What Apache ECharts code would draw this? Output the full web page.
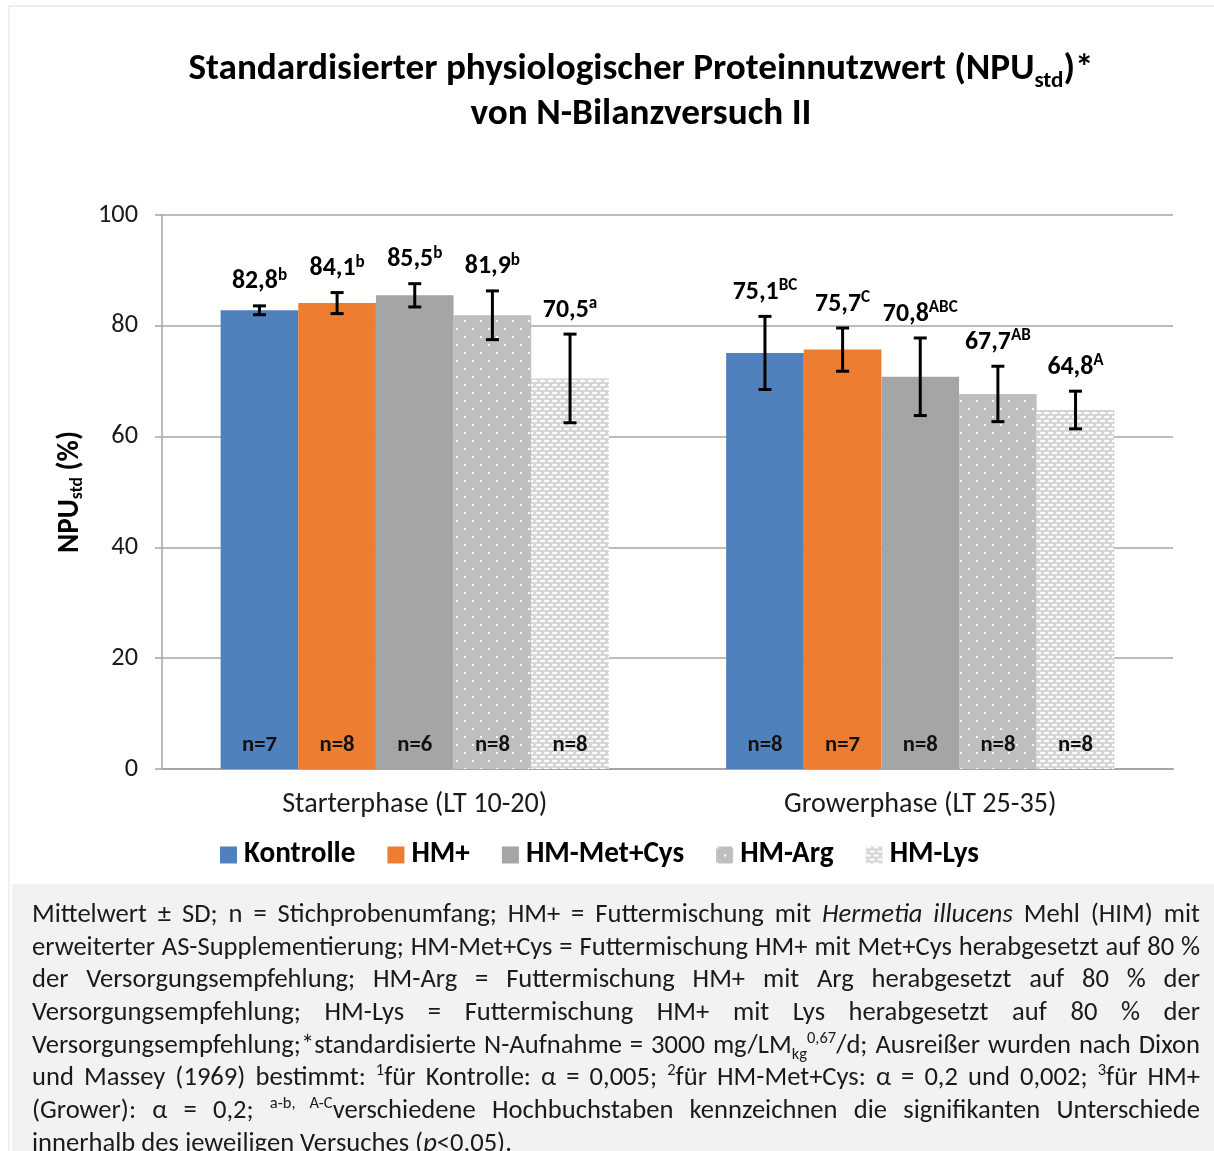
<!DOCTYPE html>
<html>
<head>
<meta charset="utf-8">
<script src="https://cdn.jsdelivr.net/npm/echarts@6/dist/echarts.min.js"></script>
<style>
  html, body { margin:0; padding:0; background:#fff; }
  #wrap { position:relative; width:1214px; height:1151px; overflow:hidden; }
  #frame { position:absolute; left:8px; top:5px; width:1210px; height:1160px; border:2px solid #efefef; box-sizing:border-box; }
  #notebox { position:absolute; left:12px; top:884px; width:1202px; height:280px; background:#f2f2f2; }
  #chart { position:absolute; left:0; top:0; width:1214px; height:1151px; }
  #note { position:absolute; left:32px; top:897px; width:1168px; color:#1a1a1a; }
  #note .ln { text-align:justify; text-align-last:justify; height:32.7px; line-height:32.7px; overflow:visible; }
  #note .ln.last { text-align-last:left; }
  #note sup, #note sub { font-size:62%; line-height:0; }
</style>
</head>
<body>
<div id="wrap">
  <div id="frame"></div>
  <div id="notebox"></div>
  <div id="chart"></div>
  <div id="note">
    <div class="ln">Mittelwert ± SD; n = Stichprobenumfang; HM+ = Futtermischung mit <i>Hermetia illucens</i> Mehl (HIM) mit</div>
    <div class="ln">erweiterter AS-Supplementierung; HM-Met+Cys = Futtermischung HM+ mit Met+Cys herabgesetzt auf 80 %</div>
    <div class="ln">der Versorgungsempfehlung; HM-Arg = Futtermischung HM+ mit Arg herabgesetzt auf 80 % der</div>
    <div class="ln">Versorgungsempfehlung; HM-Lys = Futtermischung HM+ mit Lys herabgesetzt auf 80 % der</div>
    <div class="ln">Versorgungsempfehlung;*standardisierte N-Aufnahme = 3000 mg/LM<sub>kg</sub><sup>0,67</sup>/d; Ausreißer wurden nach Dixon</div>
    <div class="ln">und Massey (1969) bestimmt: <sup>1</sup>für Kontrolle: α = 0,005; <sup>2</sup>für HM-Met+Cys: α = 0,2 und 0,002; <sup>3</sup>für HM+</div>
    <div class="ln">(Grower): α = 0,2; <sup>a-b, A-C</sup>verschiedene Hochbuchstaben kennzeichnen die signifikanten Unterschiede</div>
    <div class="ln last" id="lastln">innerhalb des jeweiligen Versuches (<i>p</i>&lt;0,05).</div>
  </div>
</div>
<script>
// ---------------- DATA ----------------
const categories = ['Starterphase (LT 10-20)', 'Growerphase (LT 25-35)'];
const seriesNames = ['Kontrolle', 'HM+', 'HM-Met+Cys', 'HM-Arg', 'HM-Lys'];
const kontrolle = [82.8, 75.1];
const hmPlus    = [84.1, 75.7];
const hmMetCys  = [85.5, 70.8];
const hmArg     = [81.9, 67.7];
const hmLys     = [70.5, 64.8];
const sdKontrolle = [0.8, 6.6];
const sdHmPlus    = [1.9, 3.9];
const sdHmMetCys  = [2.1, 7.0];
const sdHmArg     = [4.4, 5.0];
const sdHmLys     = [8.0, 3.4];
const letKontrolle = ['b', 'BC'];
const letHmPlus    = ['b', 'C'];
const letHmMetCys  = ['b', 'ABC'];
const letHmArg     = ['b', 'AB'];
const letHmLys     = ['a', 'A'];
const nKontrolle = [7, 8];
const nHmPlus    = [8, 7];
const nHmMetCys  = [6, 8];
const nHmArg     = [8, 8];
const nHmLys     = [8, 8];
const yTicks = [0, 20, 40, 60, 80, 100];

const values = [kontrolle, hmPlus, hmMetCys, hmArg, hmLys];
const sds = [sdKontrolle, sdHmPlus, sdHmMetCys, sdHmArg, sdHmLys];
const letters = [letKontrolle, letHmPlus, letHmMetCys, letHmArg, letHmLys];
const ns = [nKontrolle, nHmPlus, nHmMetCys, nHmArg, nHmLys];

// ---------------- FONT ----------------
function hasFont(name) {
  const c = document.createElement('canvas').getContext('2d');
  const t = 'mmmmmmmmmmlli10WQ';
  c.font = '72px monospace'; const a = c.measureText(t).width;
  c.font = '72px "' + name + '", monospace'; const b = c.measureText(t).width;
  return Math.abs(a - b) > 0.5;
}
let FONT = 'Open Sans';
for (const f of ['Carlito', 'Calibri', 'Lato', 'Open Sans']) { if (hasFont(f)) { FONT = f; break; } }
const FF = '"' + FONT + '", sans-serif';
const mctx = document.createElement('canvas').getContext('2d');
function mw(text, size, weight) { mctx.font = (weight || 'normal') + ' ' + size + 'px ' + FF; return mctx.measureText(text).width; }
function fitSize(text, weight, target) { return 20 * target / mw(text, 20, weight); }

// sizes fitted to the reference's text widths
const TITLE_FS = fitSize('von N-Bilanzversuch II', 'bold', 341);
const YTICK_FS = fitSize('100', 'normal', 40);
const XLAB_FS  = (fitSize('Starterphase (LT 10-20)', 'normal', 266) + fitSize('Growerphase (LT 25-35)', 'normal', 272)) / 2;
const LEG_FS   = (fitSize('Kontrolle', 'bold', 111) + fitSize('HM-Met+Cys', 'bold', 159)) / 2;
const VAL_FS   = fitSize('82,8', 'bold', 46);
const N_FS     = fitSize('n=7', 'bold', 35);
const YNAME_FS = fitSize('NPU (%)', 'bold', 100);

// footnote fit (last line is natural width ≈ 481px)
const note = document.getElementById('note');
note.style.fontFamily = FF;
note.style.fontSize = '22px';
(function fit() {
  const d = document.getElementById('lastln');
  const s = document.createElement('span');
  s.style.whiteSpace = 'nowrap';
  s.innerHTML = d.innerHTML; d.innerHTML = ''; d.appendChild(s);
  const w = s.getBoundingClientRect().width;
  d.innerHTML = s.innerHTML;
  let fs = 22 * 481 / w;
  note.style.fontSize = fs + 'px';
  let maxW = 0;
  note.querySelectorAll('.ln').forEach(function (e) {
    const t = document.createElement('span'); t.style.whiteSpace = 'nowrap';
    t.innerHTML = e.innerHTML; e.innerHTML = ''; e.appendChild(t);
    maxW = Math.max(maxW, t.getBoundingClientRect().width);
    e.innerHTML = t.innerHTML;
  });
  if (maxW > 1166) { fs = fs * 1166 / maxW; note.style.fontSize = fs + 'px'; }
})();

// ---------------- PATTERNS ----------------
function makeArg() {
  const c = document.createElement('canvas'); c.width = 16; c.height = 16;
  const g = c.getContext('2d');
  g.fillStyle = '#bfbfbf'; g.fillRect(0, 0, 16, 16);
  g.fillStyle = '#ffffff'; g.fillRect(0, 0, 2, 2); g.fillRect(8, 8, 2, 2);
  return c;
}
function makeLys() {
  const c = document.createElement('canvas'); c.width = 8; c.height = 8;
  const g = c.getContext('2d');
  g.fillStyle = '#d6d6d6'; g.fillRect(0, 0, 8, 8);
  g.fillStyle = '#ffffff';
  g.fillRect(0, 0, 5, 2); g.fillRect(4, 4, 5, 2); g.fillRect(-4, 4, 5, 2);
  return c;
}
const colors = ['#4f81bd', '#ed7d31', '#a5a5a5', { image: makeArg(), repeat: 'repeat' }, { image: makeLys(), repeat: 'repeat' }];

// ---------------- CHART ----------------
const chart = echarts.init(document.getElementById('chart'), null, { renderer: 'canvas' });
const GAP = 0.232;
const fmt = v => v.toFixed(1).replace('.', ',');

const barSeries = seriesNames.map((name, i) => ({
  name: name,
  type: 'bar',
  data: values[i],
  barGap: '0%',
  barCategoryGap: (GAP * 100) + '%',
  itemStyle: { color: colors[i] },
  label: {
    show: true, position: 'insideBottom', distance: 12,
    formatter: p => 'n=' + ns[i][p.dataIndex],
    fontFamily: FF, fontSize: N_FS, fontWeight: 'bold', color: '#111'
  },
  emphasis: { disabled: true },
  z: 2
}));

const errData = [];
for (let i = 0; i < seriesNames.length; i++) {
  for (let c = 0; c < categories.length; c++) {
    errData.push([c, i, values[i][c], sds[i][c]]);
  }
}

const errSeries = {
  type: 'custom',
  data: errData,
  encode: { x: 0, y: 2 },
  z: 10,
  silent: true,
  renderItem: function (params, api) {
    const c = api.value(0), i = api.value(1), v = api.value(2), sd = api.value(3);
    const center = api.coord([c, 0])[0];
    const band = api.size([1, 0])[0];
    const bw = band * (1 - GAP) / seriesNames.length;
    const x = center + (i - (seriesNames.length - 1) / 2) * bw;
    const yTop = api.coord([c, v + sd])[1];
    const yBot = api.coord([c, v - sd])[1];
    const cap = 6.5;
    const ls = { stroke: '#000', lineWidth: 3 };
    return {
      type: 'group',
      children: [
        { type: 'line', shape: { x1: x, y1: yTop, x2: x, y2: yBot }, style: ls },
        { type: 'line', shape: { x1: x - cap, y1: yTop, x2: x + cap, y2: yTop }, style: ls },
        { type: 'line', shape: { x1: x - cap, y1: yBot, x2: x + cap, y2: yBot }, style: ls },
        {
          type: 'text',
          x: x, y: yTop - 9,
          style: {
            text: '{v|' + fmt(v) + '}{s|' + letters[i][c] + '}',
            align: 'center', verticalAlign: 'bottom',
            rich: {
              v: { fontFamily: FF, fontSize: VAL_FS, fontWeight: 'bold', fill: '#000', lineHeight: VAL_FS * 1.15 },
              s: { fontFamily: FF, fontSize: VAL_FS * 0.66, fontWeight: 'bold', fill: '#000', verticalAlign: 'top', lineHeight: VAL_FS * 0.72 }
            }
          }
        }
      ]
    };
  }
};

const option = {
  animation: false,
  textStyle: { fontFamily: FF },
  grid: { left: 162, top: 215, width: 1011, height: 554, containLabel: false },
  legend: {
    data: seriesNames,
    left: 215, top: 853 - LEG_FS * 0.6,
    icon: 'rect', itemWidth: 17, itemHeight: 17, itemGap: 32,
    textStyle: { fontFamily: FF, fontSize: LEG_FS, fontWeight: 'bold', color: '#000', padding: [0, 0, 0, 2] },
    selectedMode: false
  },
  xAxis: {
    type: 'category',
    data: categories,
    axisLine: { show: true, lineStyle: { color: '#a6a6a6', width: 2 } },
    axisTick: { show: false },
    axisLabel: { fontFamily: FF, fontSize: XLAB_FS, color: '#1a1a1a', margin: 36 - XLAB_FS / 2 },
    splitLine: { show: false }
  },
  yAxis: {
    type: 'value',
    min: yTicks[0], max: yTicks[yTicks.length - 1], interval: yTicks[1] - yTicks[0],
    name: '{a|NPU}{s|std}{a| (%)}',
    nameLocation: 'middle', nameRotate: 90, nameGap: 87 - YNAME_FS * 0.6,
    nameTextStyle: {
      rich: {
        a: { fontFamily: FF, fontSize: YNAME_FS, fontWeight: 'bold', color: '#000', lineHeight: YNAME_FS * 1.15 },
        s: { fontFamily: FF, fontSize: YNAME_FS * 0.6, fontWeight: 'bold', color: '#000', verticalAlign: 'bottom', lineHeight: YNAME_FS * 0.6 }
      }
    },
    axisLine: { show: true, lineStyle: { color: '#a6a6a6', width: 1.5 } },
    axisTick: { show: true, inside: false, length: 7, lineStyle: { color: '#a6a6a6', width: 1.5 } },
    axisLabel: { fontFamily: FF, fontSize: YTICK_FS, color: '#1a1a1a', margin: 24 },
    splitLine: { show: true, lineStyle: { color: '#a6a6a6', width: 1.5 } }
  },
  graphic: [
    {
      type: 'text', x: 641, y: 70, silent: true,
      style: {
        text: '{a|Standardisierter physiologischer Proteinnutzwert (NPU}{s|std}{a|)*}',
        align: 'center', verticalAlign: 'middle',
        rich: {
          a: { fontFamily: FF, fontSize: TITLE_FS, fontWeight: 'bold', fill: '#000', lineHeight: TITLE_FS * 1.2 },
          s: { fontFamily: FF, fontSize: TITLE_FS * 0.62, fontWeight: 'bold', fill: '#000', verticalAlign: 'bottom', lineHeight: TITLE_FS * 0.55 }
        }
      }
    },
    {
      type: 'text', x: 641, y: 115, silent: true,
      style: {
        text: 'von N-Bilanzversuch II',
        align: 'center', verticalAlign: 'middle',
        fontFamily: FF, fontSize: TITLE_FS, fontWeight: 'bold', fill: '#000'
      }
    }
  ],
  series: barSeries.concat([errSeries])
};
chart.setOption(option);
</script>
</body>
</html>
